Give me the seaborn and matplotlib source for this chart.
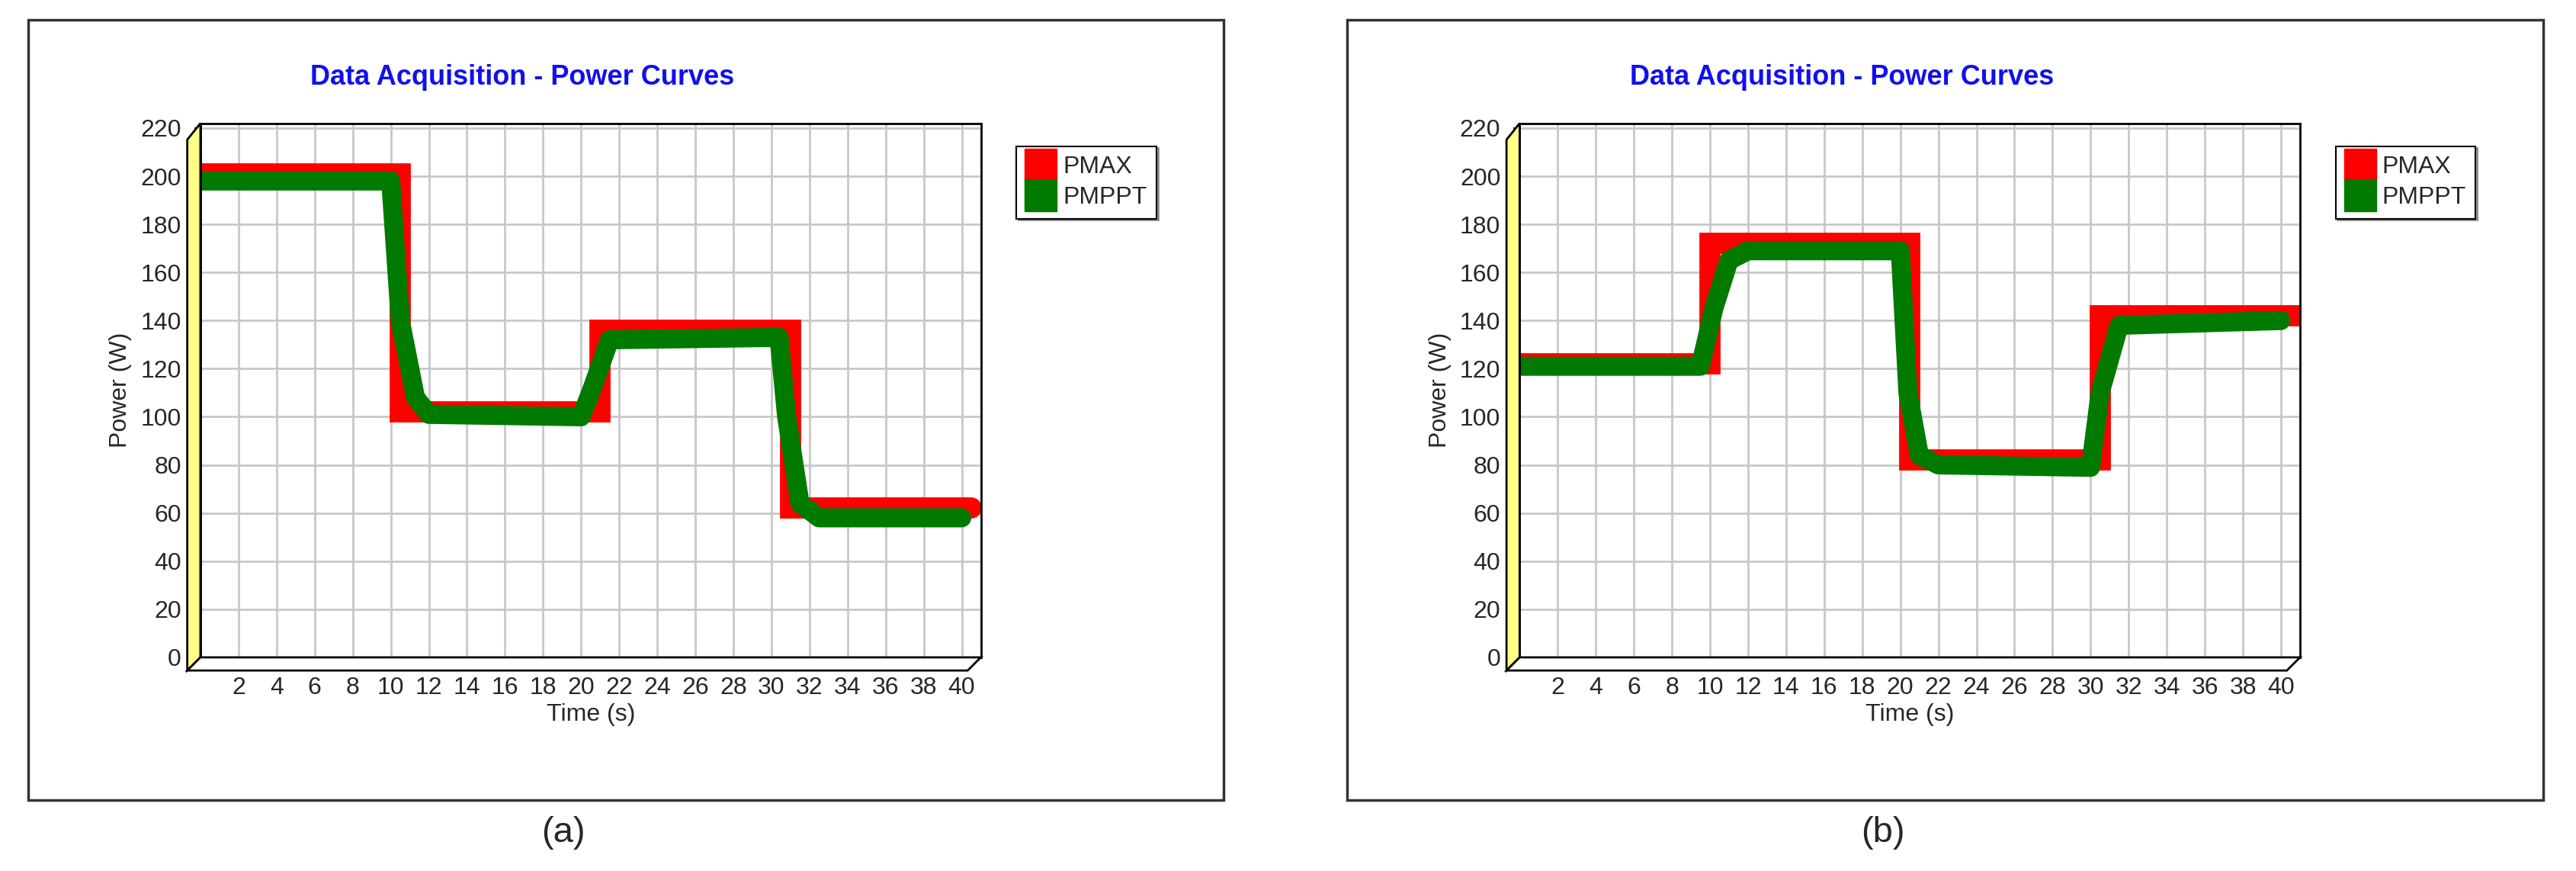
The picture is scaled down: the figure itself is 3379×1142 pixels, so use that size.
import numpy as np
import pandas as pd
import matplotlib
matplotlib.use('Agg')
import matplotlib.pyplot as plt
import seaborn as sns
from matplotlib.patches import Rectangle, Polygon

# ---------------------------------------------------------
# data (time s, power W)
# ---------------------------------------------------------
t_pmax_a = [0, 10.5, 10.5, 21, 21, 31, 31, 40.5]
p_pmax_a = [201, 201, 102, 102, 136, 136, 62, 62]
t_pmppt_a = [0, 10, 10.5, 11.3, 12, 20, 20.5, 21.5, 30.4, 30.8, 31.5, 32.5, 40]
p_pmppt_a = [198, 198, 140, 108, 101, 100, 110, 132, 133, 100, 64, 58, 58]

t_pmax_b = [0, 10, 10, 20.5, 20.5, 30.5, 30.5, 41]
p_pmax_b = [122, 122, 172, 172, 82, 82, 142, 142]
t_pmppt_b = [0, 9.5, 10.2, 11, 12, 20, 20.4, 21, 22, 30, 30.5, 31.5, 40]
p_pmppt_b = [121, 121, 145, 165, 169, 169, 110, 84, 80, 79, 110, 138, 140]

x_ticks = list(range(2, 41, 2))
y_ticks = list(range(0, 221, 20))

sns.set_theme(style='white')
plt.rcParams['font.family'] = ['Liberation Sans', 'DejaVu Sans']

W, H = 1568, 530
fig = plt.figure(figsize=(33.79, 11.42), dpi=100)


def fx(px):
    return px / W


def fy(py):
    return 1 - py / H


def draw_panel(dx, t1, p1, t2, p2, caption):
    # outer frame
    fig.patches.append(Rectangle((fx(17 + dx), fy(487)), fx(728), (487 - 12) / H,
                                 transform=fig.transFigure, fill=False,
                                 edgecolor='#333333', lw=2.5))
    fig.text(fx(343 + dx), fy(507), caption, ha='center', va='center', fontsize=34)
    fig.text(fx(318 + dx), fy(47), 'Data Acquisition - Power Curves', ha='center',
             va='center', fontsize=26, fontweight='bold', color='#1010ee')

    ax = fig.add_axes([fx(122 + dx), fy(400), fx(597 - 122), (400 - 75) / H])
    df1 = pd.DataFrame({'t': t1, 'p': p1})
    df2 = pd.DataFrame({'t': t2, 'p': p2})
    sns.lineplot(data=df1, x='t', y='p', ax=ax, color='#ff0000', lw=20,
                 sort=False, estimator=None, solid_joinstyle='miter')
    sns.lineplot(data=df2, x='t', y='p', ax=ax, color='#007a00', lw=18,
                 sort=False, estimator=None)
    ax.set_xlim(0, 41)
    ax.set_ylim(0, 222)
    ax.set_xticks(x_ticks)
    ax.set_xticklabels([str(v) for v in x_ticks], fontsize=23)
    ax.set_xticks(np.arange(0.5, 41, 1), minor=True)
    ax.set_yticks(y_ticks)
    ax.set_yticklabels([str(v) for v in y_ticks], fontsize=23)
    ax.tick_params(axis='both', which='both', direction='out', length=6,
                   width=1.5, bottom=True, left=True, pad=12)
    ax.tick_params(axis='x', which='minor', length=4)
    ax.grid(True, color='#c8c8c8', lw=2)
    ax.set_axisbelow(True)
    ax.set_xlabel('Time (s)', fontsize=23, labelpad=4)
    ax.set_ylabel('Power (W)', fontsize=23, labelpad=8)
    for s in ax.spines.values():
        s.set_color('black')
        s.set_linewidth(2)

    # 3D-ish wall and floor
    fig.patches.append(Polygon([(fx(114 + dx), fy(408)), (fx(122 + dx), fy(400)),
                                (fx(122 + dx), fy(75)), (fx(114 + dx), fy(85))],
                               closed=True, transform=fig.transFigure,
                               facecolor='#ffff88', edgecolor='black', lw=2))
    fig.patches.append(Polygon([(fx(114 + dx), fy(408)), (fx(122 + dx), fy(400)),
                                (fx(597 + dx), fy(400)), (fx(589 + dx), fy(408))],
                               closed=True, transform=fig.transFigure,
                               facecolor='white', edgecolor='black', lw=2))

    leg = ax.legend(handles=[
        plt.Line2D([], [], marker='s', color='#ff0000', ls='', markersize=30),
        plt.Line2D([], [], marker='s', color='#007a00', ls='', markersize=30)],
        labels=['PMAX', 'PMPPT'], loc='upper left', bbox_to_anchor=(1.03, 0.98),
        fontsize=23, frameon=True, fancybox=False, shadow=True,
        handletextpad=0.3, borderpad=0.4, labelspacing=0.3, handlelength=1.2)
    leg.get_frame().set_edgecolor('black')
    leg.get_frame().set_linewidth(1.5)


draw_panel(0, t_pmax_a, p_pmax_a, t_pmppt_a, p_pmppt_a, '(a)')
draw_panel(803, t_pmax_b, p_pmax_b, t_pmppt_b, p_pmppt_b, '(b)')

fig.savefig('out.png', dpi=100)
